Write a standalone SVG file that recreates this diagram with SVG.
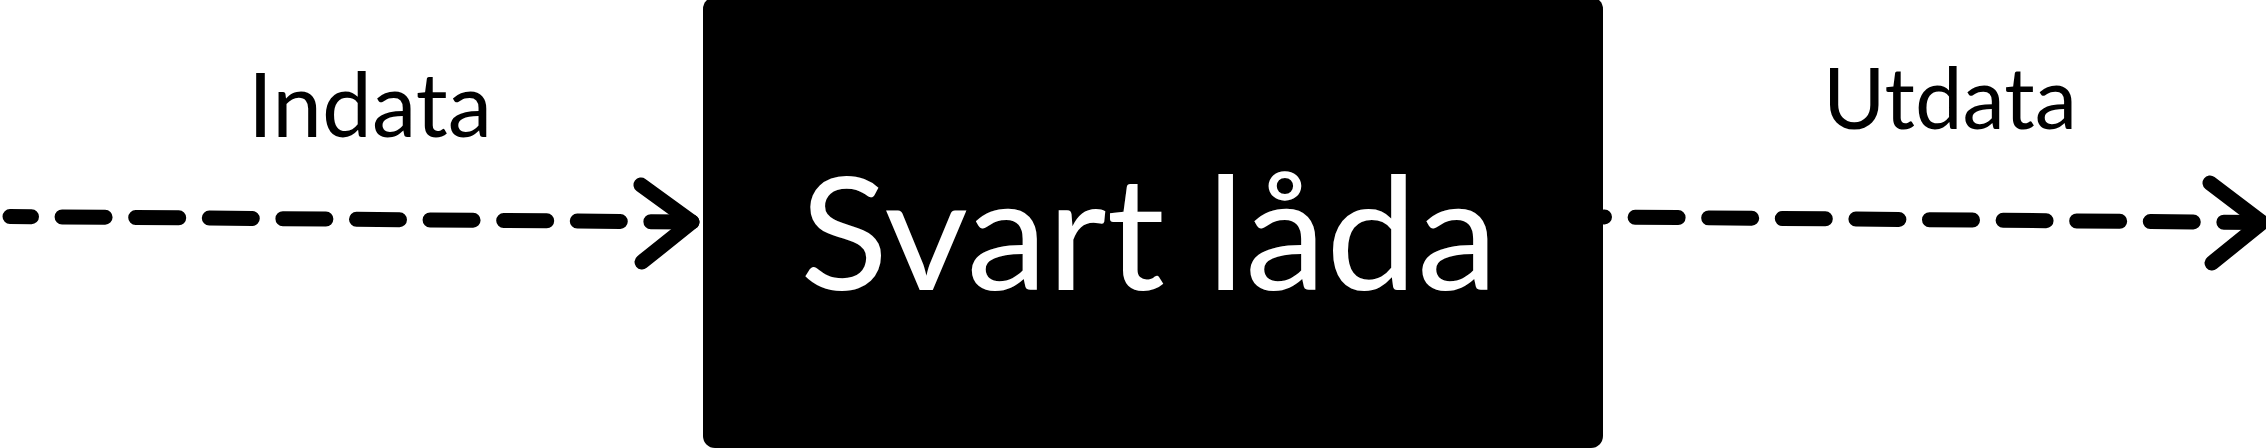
<svg xmlns="http://www.w3.org/2000/svg" width="2266" height="448" viewBox="0 0 2266 448">
  <style>
    .flow { fill: none; stroke: #000; stroke-width: 15; stroke-linecap: round; stroke-linejoin: round; stroke-dasharray: 43 30.6; }
    .head { fill: none; stroke: #000; stroke-width: 15; stroke-linecap: round; stroke-linejoin: round; }
    .label { font-family: Lato, "Open Sans", "Liberation Sans", sans-serif; fill: #000; }
    .title { font-family: Lato, "Open Sans", "Liberation Sans", sans-serif; fill: #fff; }
  </style>
  <rect width="2266" height="448" fill="#fff"/>
  <g id="connectors">
    <g id="edge-in">
      <path class="flow" d="M10,216.5 L692,222" stroke-dashoffset="21.5"/>
      <path class="head" d="M641,185 L692,222 L642,262"/>
    </g>
    <g id="edge-out">
      <path class="flow" d="M1604,217 L2262,222.5" stroke-dashoffset="42.5"/>
      <path class="head" d="M2210,183 L2262,222.5 L2212,263"/>
    </g>
  </g>
  <g id="svart-lada">
    <rect x="703" y="-3" width="900" height="451" rx="12" ry="12" fill="#000"/>
    <text class="title" x="800" y="290" font-size="158" textLength="698" lengthAdjust="spacingAndGlyphs">Svart låda</text>
  </g>
  <g id="indata">
    <text class="label" x="248" y="137" font-size="89" textLength="244" lengthAdjust="spacingAndGlyphs">Indata</text>
  </g>
  <g id="utdata">
    <text class="label" x="1823" y="129" font-size="86" textLength="254" lengthAdjust="spacingAndGlyphs">Utdata</text>
  </g>
</svg>
